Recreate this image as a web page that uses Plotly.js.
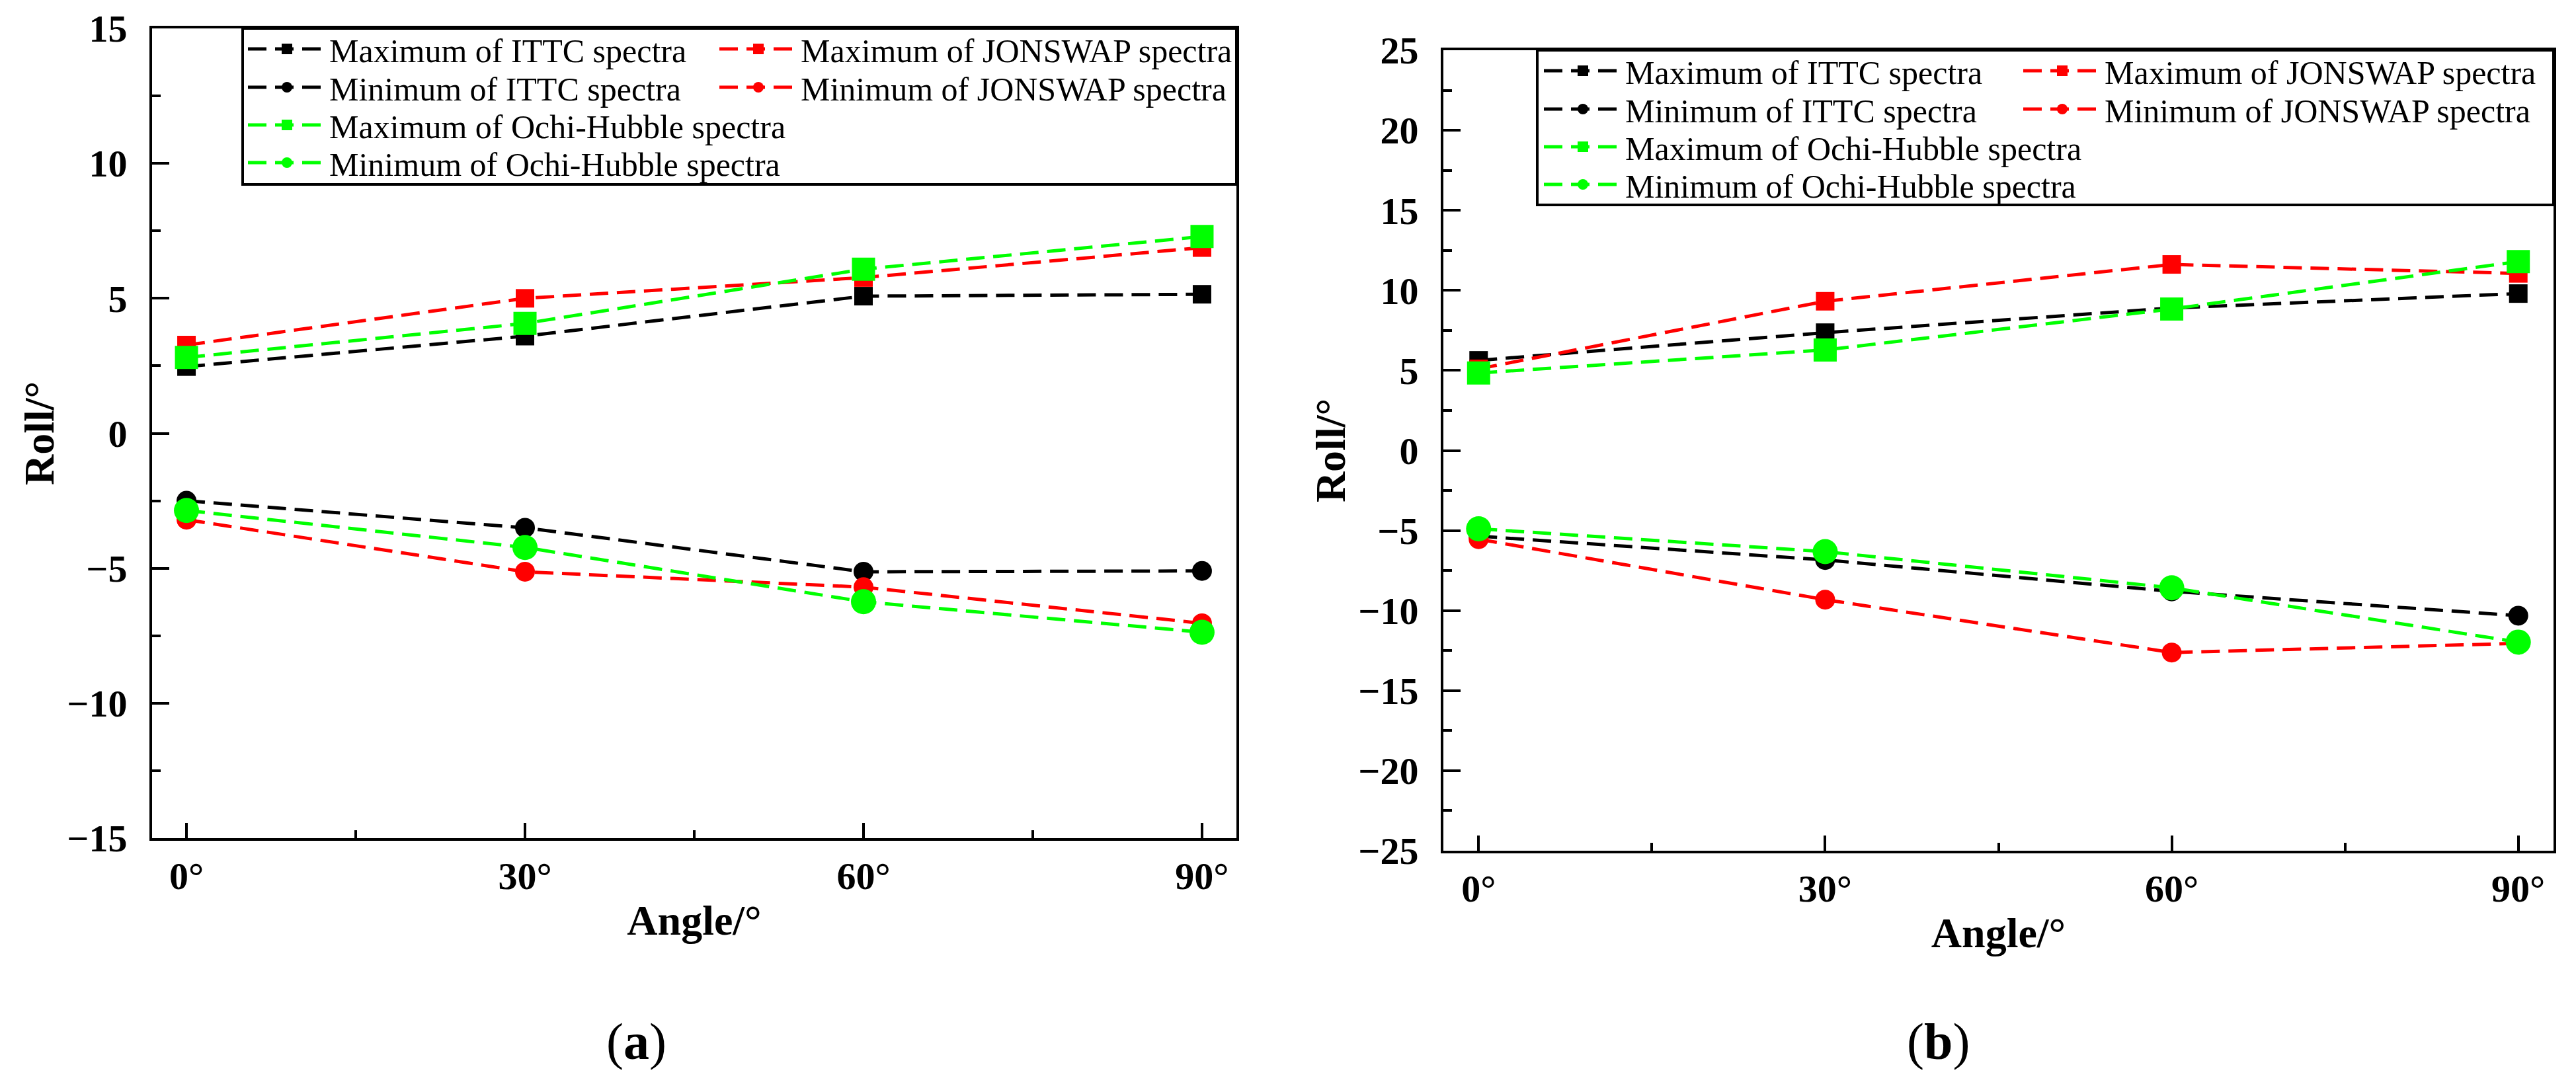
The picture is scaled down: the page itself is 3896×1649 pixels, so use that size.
<!DOCTYPE html>
<html>
<head>
<meta charset="utf-8">
<script src="https://cdn.plot.ly/plotly-3.0.1.min.js"></script>
<style>html,body{margin:0;padding:0;background:#fff;}#chart{width:3896px;height:1649px;}</style>
</head>
<body>
<div id="chart"></div>
<script>
// Categories (x values, degrees) and tick labels
const angles = [0, 30, 60, 90];
const angleLabels = ["0°", "30°", "60°", "90°"];

// Panel (a) series
const aMaxITTC    = [2.47, 3.60, 5.08, 5.15];
const aMinITTC    = [-2.50, -3.50, -5.13, -5.10];
const aMaxJONSWAP = [3.27, 5.00, 5.77, 6.88];
const aMinJONSWAP = [-3.20, -5.13, -5.70, -7.04];
const aMaxOchi    = [2.81, 4.07, 6.08, 7.29];
const aMinOchi    = [-2.86, -4.23, -6.24, -7.37];

// Panel (b) series
const bMaxITTC    = [5.63, 7.36, 8.90, 9.80];
const bMinITTC    = [-5.35, -6.84, -8.80, -10.32];
const bMaxJONSWAP = [5.10, 9.32, 11.62, 11.06];
const bMinJONSWAP = [-5.54, -9.32, -12.62, -12.05];
const bMaxOchi    = [4.84, 6.28, 8.84, 11.80];
const bMinOchi    = [-4.89, -6.32, -8.58, -11.97];

const names = [
  "Maximum of ITTC spectra", "Minimum of ITTC spectra",
  "Maximum of JONSWAP spectra", "Minimum of JONSWAP spectra",
  "Maximum of Ochi-Hubble spectra", "Minimum of Ochi-Hubble spectra"
];

const W = 3896, H = 1649;
const BLACK = "#000000", RED = "#ff0000", GREEN = "#00ff00";

function tr(y, name, color, symbol, size, xa, ya, leg) {
  return {
    x: angles, y: y, name: name, type: "scatter", mode: "lines+markers",
    xaxis: xa, yaxis: ya, legend: leg,
    line: {color: color, width: 5, dash: "28px,13px"},
    marker: {color: color, symbol: symbol, size: size, line: {width: 0}}
  };
}

// one legend per legend row/column so spacing matches
const data = [
  tr(aMaxITTC, names[0], BLACK, "square", 28, "x", "y", "legend"),
  tr(aMinITTC, names[1], BLACK, "circle", 30, "x", "y", "legend2"),
  tr(aMaxJONSWAP, names[2], RED, "square", 28, "x", "y", "legend3"),
  tr(aMinJONSWAP, names[3], RED, "circle", 30, "x", "y", "legend4"),
  tr(aMaxOchi, names[4], GREEN, "square", 35, "x", "y", "legend5"),
  tr(aMinOchi, names[5], GREEN, "circle", 38, "x", "y", "legend6"),
  tr(bMaxITTC, names[0], BLACK, "square", 28, "x2", "y2", "legend7"),
  tr(bMinITTC, names[1], BLACK, "circle", 30, "x2", "y2", "legend8"),
  tr(bMaxJONSWAP, names[2], RED, "square", 28, "x2", "y2", "legend9"),
  tr(bMinJONSWAP, names[3], RED, "circle", 30, "x2", "y2", "legend10"),
  tr(bMaxOchi, names[4], GREEN, "square", 35, "x2", "y2", "legend11"),
  tr(bMinOchi, names[5], GREEN, "circle", 38, "x2", "y2", "legend12")
];

const FONT = "Liberation Serif, Times New Roman, serif";
const tickFont = {family: FONT, size: 58, color: "#000", weight: "bold"};
const titleFont = {family: FONT, size: 64, color: "#000", weight: "bold"};

function xax(domain, anchor) {
  return {
    domain: domain, anchor: anchor, range: [-3.05, 93.05],
    tickmode: "array", tickvals: angles, ticktext: angleLabels,
    ticks: "inside", ticklen: 23, tickwidth: 4, tickcolor: "#000",
    minor: {tickmode: "array", tickvals: [15, 45, 75], ticks: "inside", ticklen: 12, tickwidth: 4, tickcolor: "#000"},
    showline: true, linewidth: 4, linecolor: "#000", mirror: true,
    showgrid: false, zeroline: false, tickfont: tickFont, ticklabelstandoff: 3,
    title: {text: "Angle/°", font: titleFont, standoff: 14}
  };
}
function yax(domain, anchor, r) {
  return {
    domain: domain, anchor: anchor, range: r, dtick: 5, tick0: 0,
    ticks: "inside", ticklen: 26, tickwidth: 4, tickcolor: "#000",
    minor: {dtick: 2.5, ticks: "inside", ticklen: 13, tickwidth: 4, tickcolor: "#000"},
    showline: true, linewidth: 4, linecolor: "#000", mirror: true,
    showgrid: false, zeroline: false, tickfont: tickFont, ticklabelstandoff: 22,
    title: {text: "Roll/°", font: titleFont, standoff: 0}
  };
}

function leg(xPix, yPix) {
  return {
    x: xPix / W, y: 1 - yPix / H, xanchor: "left", yanchor: "middle",
    bgcolor: "rgba(0,0,0,0)", borderwidth: 0,
    font: {family: FONT, size: 50, color: "#000"},
    itemwidth: 118, itemsizing: "trace", tracegroupgap: 0,
    traceorder: "normal"
  };
}

const rowsA = [74, 132, 189, 246];
const rowsB = [107, 165, 222, 279];
const colA = [370, 1083];
const colB = [2330, 3055];

const layout = {
  width: W, height: H,
  margin: {l: 0, r: 0, t: 0, b: 0},
  paper_bgcolor: "#fff", plot_bgcolor: "#fff",
  showlegend: true,
  xaxis: xax([230 / W, 1870 / W], "y"),
  yaxis: yax([1 - 1268 / H, 1 - 43 / H], "x", [-15, 15]),
  xaxis2: xax([2183 / W, 3862 / W], "y2"),
  yaxis2: yax([1 - 1287 / H, 1 - 76 / H], "x2", [-25, 25]),
  legend:   leg(colA[0], rowsA[0]),
  legend2:  leg(colA[0], rowsA[1]),
  legend3:  leg(colA[1], rowsA[0]),
  legend4:  leg(colA[1], rowsA[1]),
  legend5:  leg(colA[0], rowsA[2]),
  legend6:  leg(colA[0], rowsA[3]),
  legend7:  leg(colB[0], rowsB[0]),
  legend8:  leg(colB[0], rowsB[1]),
  legend9:  leg(colB[1], rowsB[0]),
  legend10: leg(colB[1], rowsB[1]),
  legend11: leg(colB[0], rowsB[2]),
  legend12: leg(colB[0], rowsB[3]),
  shapes: [
    {type: "rect", xref: "paper", yref: "paper", x0: 367 / W, x1: 1870 / W, y0: 1 - 279 / H, y1: 1 - 43 / H, line: {color: "#000", width: 4}, fillcolor: "rgba(0,0,0,0)"},
    {type: "rect", xref: "paper", yref: "paper", x0: 2325 / W, x1: 3862 / W, y0: 1 - 310 / H, y1: 1 - 76 / H, line: {color: "#000", width: 4}, fillcolor: "rgba(0,0,0,0)"}
  ],
  annotations: [
    {text: "(<b>a</b>)", xref: "paper", yref: "paper", x: 962 / W, y: 1 - 1575 / H, xanchor: "center", yanchor: "middle", showarrow: false, font: {family: FONT, size: 78, color: "#000"}},
    {text: "(<b>b</b>)", xref: "paper", yref: "paper", x: 2931 / W, y: 1 - 1575 / H, xanchor: "center", yanchor: "middle", showarrow: false, font: {family: FONT, size: 78, color: "#000"}}
  ]
};

Plotly.newPlot("chart", data, layout, {staticPlot: true, displayModeBar: false});
</script>
</body>
</html>
